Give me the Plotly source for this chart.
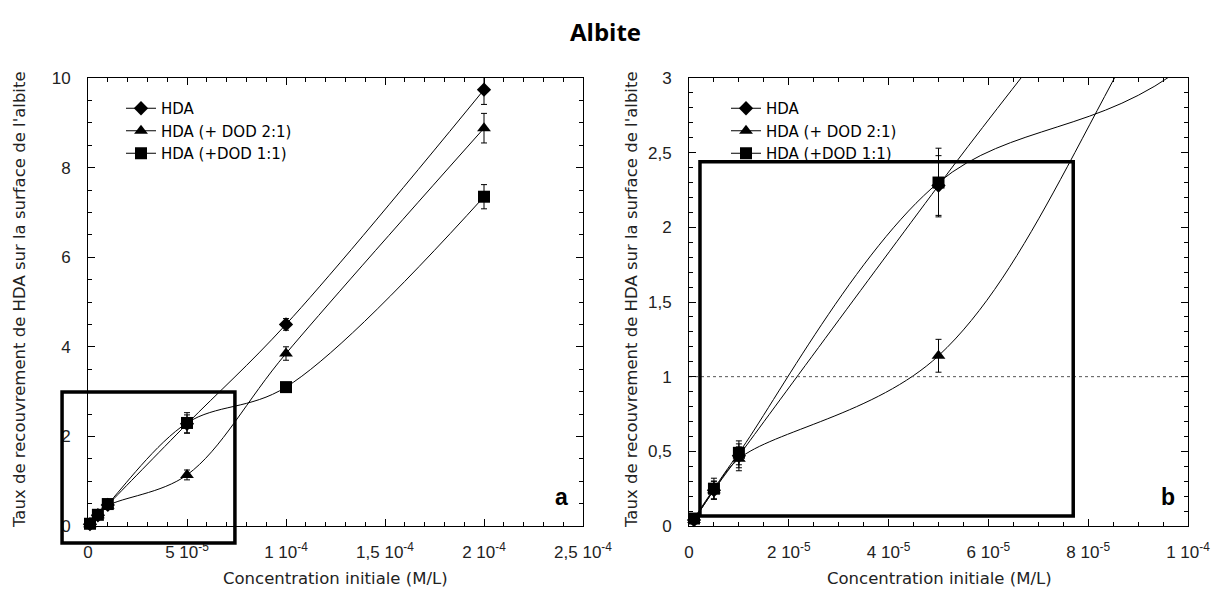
import numpy as np
import plotly.graph_objects as go

# ---------------- data ----------------
conc = [1e-6, 5e-6, 1e-5, 5e-5, 1e-4, 2e-4]
series_names = ["HDA", "HDA (+ DOD 2:1)", "HDA (+DOD 1:1)"]
hda = [0.04, 0.24, 0.47, 2.28, 4.50, 9.74]
hda_err = [0.01, 0.06, 0.08, 0.20, 0.13, 0.33]
hda_dod21 = [0.04, 0.24, 0.45, 1.14, 3.85, 8.88]
hda_dod21_err = [0.01, 0.06, 0.08, 0.11, 0.15, 0.33]
hda_dod11 = [0.05, 0.25, 0.49, 2.30, 3.10, 7.35]
hda_dod11_err = [0.01, 0.07, 0.08, 0.23, 0.07, 0.27]
symbols = ["diamond", "triangle-up", "square"]
marker_sizes = [11, 12, 12]

left_xticks = [0, 5e-5, 1e-4, 1.5e-4, 2e-4, 2.5e-4]
left_xtext = ["0", "5 10<sup>-5</sup>", "1 10<sup>-4</sup>", "1,5 10<sup>-4</sup>",
              "2 10<sup>-4</sup>", "2,5 10<sup>-4</sup>"]
right_xticks = [0, 2e-5, 4e-5, 6e-5, 8e-5, 1e-4]
right_xtext = ["0", "2 10<sup>-5</sup>", "4 10<sup>-5</sup>", "6 10<sup>-5</sup>",
               "8 10<sup>-5</sup>", "1 10<sup>-4</sup>"]
left_yticks = [0, 2, 4, 6, 8, 10]
left_ytext = ["0", "2", "4", "6", "8", "10"]
right_yticks = [0, 0.5, 1, 1.5, 2, 2.5, 3]
right_ytext = ["0", "0,5", "1", "1,5", "2", "2,5", "3"]

title = "Albite"
xtitle = "Concentration initiale (M/L)"
ytitle = "Taux de recouvrement de HDA sur la surface de l'albite"

# zoom boxes (data units of each panel)
left_box = dict(x0=-1.31e-5, x1=7.42e-5, y0=-0.38, y1=2.99)
right_box = dict(x0=2.2e-6, x1=7.7e-5, y0=0.067, y1=2.44)

# ---------------- layout geometry ----------------
W, H = 1211, 592
L_xdom = [88 / W, 583 / W]
R_xdom = [689 / W, 1188 / W]
ydom = [1 - 526 / H, 1 - 78 / H]
L_xr, L_yr = [0, 2.5e-4], [0, 10]
R_xr, R_yr = [0, 1e-4], [0, 3]

TICKFONT = "Liberation Sans, Arial, sans-serif"
TEXTFONT = "DejaVu Sans, sans-serif"
fig = go.Figure()

ys = [hda, hda_dod21, hda_dod11]
errs = [hda_err, hda_dod21_err, hda_dod11_err]
xa = np.array(conc)

for xaxis, yaxis, xr, yr, legend in [("x", "y", L_xr, L_yr, "legend"),
                                     ("x2", "y2", R_xr, R_yr, "legend2")]:
    for name, y, e, sym, ms in zip(series_names, ys, errs, symbols, marker_sizes):
        ya = np.array(y)
        ea = np.array(e)
        # smooth line through all points (clipped to the panel)
        fig.add_trace(go.Scatter(x=conc, y=y, mode="lines", xaxis=xaxis, yaxis=yaxis,
                                 line=dict(color="black", width=1, shape="spline", smoothing=1),
                                 showlegend=False, hoverinfo="skip"))
        mask = (xa <= xr[1]) & (ya <= yr[1])
        fig.add_trace(go.Scatter(x=xa[mask], y=ya[mask], mode="markers",
                                 xaxis=xaxis, yaxis=yaxis, cliponaxis=False,
                                 marker=dict(symbol=sym, color="black", size=ms),
                                 error_y=dict(type="data", array=ea[mask], color="black",
                                              thickness=1, width=3),
                                 showlegend=False))
        # legend entry
        fig.add_trace(go.Scatter(x=[None], y=[None], mode="lines+markers", name=name,
                                 xaxis=xaxis, yaxis=yaxis, legend=legend,
                                 line=dict(color="black", width=1),
                                 marker=dict(symbol=sym, color="black", size=ms)))

# dotted reference line at 1 in panel b
fig.add_trace(go.Scatter(x=R_xr, y=[1, 1], mode="lines", xaxis="x2", yaxis="y2",
                         line=dict(color="#555", width=1, dash="dot"),
                         showlegend=False, hoverinfo="skip"))


def axis_common(is_x, **kw):
    d = dict(showline=True, linecolor="black", linewidth=1, mirror="ticks",
             ticks="inside", ticklen=7, tickcolor="black", showgrid=False,
             zeroline=False, automargin=False,
             tickfont=dict(family=TICKFONT, size=17, color="#222"),
             ticklabelstandoff=11 if is_x else 13,
             tickmode="array")
    d.update(kw)
    return d


fig.update_layout(
    template="none",
    width=W, height=H,
    margin=dict(l=0, r=0, t=0, b=0, autoexpand=False),
    plot_bgcolor="white", paper_bgcolor="white",
    xaxis=axis_common(True, domain=L_xdom, range=L_xr, tickvals=left_xticks,
                      ticktext=left_xtext, anchor="y",
                      minor=dict(dtick=1e-5, tick0=0, ticks="inside", ticklen=4,
                                 tickcolor="black", showgrid=False)),
    yaxis=axis_common(False, domain=ydom, range=L_yr, tickvals=left_yticks,
                      ticktext=left_ytext, anchor="x",
                      minor=dict(dtick=0.5, tick0=0, ticks="inside", ticklen=4,
                                 tickcolor="black", showgrid=False)),
    xaxis2=axis_common(True, domain=R_xdom, range=R_xr, tickvals=right_xticks,
                       ticktext=right_xtext, anchor="y2",
                       minor=dict(dtick=5e-6, tick0=0, ticks="inside", ticklen=4,
                                  tickcolor="black", showgrid=False)),
    yaxis2=axis_common(False, domain=ydom, range=R_yr, tickvals=right_yticks,
                       ticktext=right_ytext, anchor="x2",
                       minor=dict(dtick=0.1, tick0=0, ticks="inside", ticklen=4,
                                  tickcolor="black", showgrid=False)),
    legend=dict(x=121 / W, y=1 - 92 / H, xanchor="left", yanchor="top",
                bgcolor="rgba(0,0,0,0)", font=dict(family=TEXTFONT, size=15, color="black"),
                tracegroupgap=0, itemwidth=30, borderwidth=0),
    legend2=dict(x=726 / W, y=1 - 92 / H, xanchor="left", yanchor="top",
                 bgcolor="rgba(0,0,0,0)", font=dict(family=TEXTFONT, size=15, color="black"),
                 tracegroupgap=0, itemwidth=30, borderwidth=0),
    showlegend=True,
)


def to_paper(v, rng, dom):
    return dom[0] + (v - rng[0]) / (rng[1] - rng[0]) * (dom[1] - dom[0])


shapes = []
for box, xr, yr, xd in [(left_box, L_xr, L_yr, L_xdom), (right_box, R_xr, R_yr, R_xdom)]:
    shapes.append(dict(type="rect", xref="paper", yref="paper",
                       x0=to_paper(box["x0"], xr, xd), x1=to_paper(box["x1"], xr, xd),
                       y0=to_paper(box["y0"], yr, ydom), y1=to_paper(box["y1"], yr, ydom),
                       line=dict(color="black", width=3.5), layer="above"))
fig.update_layout(shapes=shapes)

C = dict(xref="paper", yref="paper", showarrow=False, xanchor="center", yanchor="middle")
annos = [
    dict(text="<b>" + title + "</b>", x=0.5, y=1 - 31 / H,
         font=dict(family="Open Sans, sans-serif", size=24, color="black"), **C),
    dict(text=xtitle, x=335 / W, y=1 - 578 / H,
         font=dict(family=TEXTFONT, size=16.5, color="#222"), **C),
    dict(text=xtitle, x=939 / W, y=1 - 578 / H,
         font=dict(family=TEXTFONT, size=16.5, color="#222"), **C),
    dict(text=ytitle, x=19 / W, y=1 - 300 / H, textangle=-90,
         font=dict(family=TEXTFONT, size=16.5, color="#222"), **C),
    dict(text=ytitle, x=631 / W, y=1 - 300 / H, textangle=-90,
         font=dict(family=TEXTFONT, size=16.5, color="#222"), **C),
    dict(text="<b>a</b>", x=561 / W, y=1 - 497 / H,
         font=dict(family=TICKFONT, size=23, color="black"), **C),
    dict(text="<b>b</b>", x=1168 / W, y=1 - 497 / H,
         font=dict(family=TICKFONT, size=23, color="black"), **C),
]
fig.update_layout(annotations=annos)

fig.write_html("out.html", config={"displayModeBar": False},
               post_script="document.body.style.margin='0';document.body.style.padding='0';")
